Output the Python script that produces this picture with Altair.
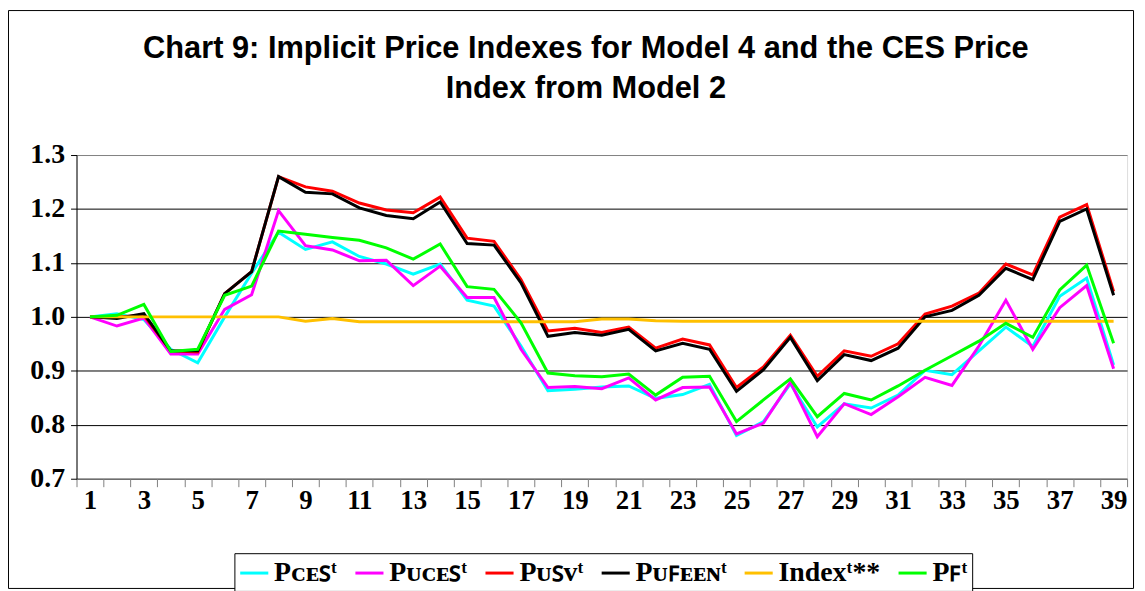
import altair as alt
import pandas as pd

periods = list(range(1, 40))

p_ces = [1.000, 1.006, 0.995, 0.940, 0.915, 1.000, 1.081, 1.157, 1.125, 1.139,
         1.112, 1.098, 1.079, 1.098, 1.031, 1.020, 0.946, 0.863, 0.866, 0.870,
         0.872, 0.849, 0.856, 0.875, 0.780, 0.806, 0.876, 0.796, 0.839, 0.831,
         0.855, 0.901, 0.893, 0.937, 0.981, 0.945, 1.038, 1.072, 0.911]
p_uces = [1.000, 0.983, 0.998, 0.931, 0.931, 1.014, 1.041, 1.197, 1.132, 1.124,
          1.104, 1.105, 1.058, 1.094, 1.036, 1.036, 0.940, 0.869, 0.871, 0.867,
          0.887, 0.846, 0.869, 0.870, 0.783, 0.803, 0.879, 0.778, 0.839, 0.819,
          0.852, 0.888, 0.873, 0.946, 1.031, 0.940, 1.017, 1.058, 0.904]
p_usv = [1.000, 1.000, 1.003, 0.937, 0.935, 1.043, 1.084, 1.260, 1.241, 1.233,
         1.211, 1.198, 1.193, 1.222, 1.146, 1.140, 1.069, 0.974, 0.979, 0.971,
         0.981, 0.942, 0.959, 0.948, 0.869, 0.907, 0.966, 0.890, 0.937, 0.927,
         0.950, 1.005, 1.020, 1.044, 1.098, 1.078, 1.185, 1.208, 1.047]
p_ufeen = [1.000, 0.997, 1.006, 0.937, 0.937, 1.043, 1.084, 1.260, 1.231, 1.228,
           1.202, 1.188, 1.182, 1.213, 1.136, 1.133, 1.063, 0.964, 0.971, 0.966,
           0.977, 0.937, 0.951, 0.940, 0.862, 0.902, 0.962, 0.882, 0.930, 0.919,
           0.942, 1.000, 1.012, 1.040, 1.090, 1.069, 1.177, 1.200, 1.040]
index_t = [1.000, 1.000, 1.000, 1.000, 1.000, 1.000, 1.000, 1.000, 0.992, 0.997,
           0.991, 0.991, 0.991, 0.991, 0.991, 0.991, 0.991, 0.991, 0.991, 0.996,
           0.996, 0.993, 0.992, 0.992, 0.992, 0.992, 0.992, 0.992, 0.992, 0.992,
           0.992, 0.992, 0.992, 0.992, 0.992, 0.992, 0.992, 0.992, 0.992]
p_f = [1.000, 1.003, 1.023, 0.936, 0.940, 1.040, 1.057, 1.159, 1.153, 1.147,
       1.142, 1.128, 1.107, 1.135, 1.056, 1.051, 0.989, 0.896, 0.891, 0.889,
       0.894, 0.855, 0.888, 0.890, 0.806, 0.846, 0.885, 0.815, 0.858, 0.846,
       0.872, 0.901, 0.928, 0.955, 0.988, 0.962, 1.050, 1.096, 0.951]

series_labels = ["P\u1d04\u1d07\ua731\u1d57", "P\u1d1c\u1d04\u1d07\ua731\u1d57",
                 "P\u1d1c\ua731\u1d20\u1d57", "P\u1d1c\ua730\u1d07\u1d07\u0274\u1d57",
                 "Index\u1d57**", "P\ua730\u1d57"]
series_colors = ["#00FFFF", "#FF00FF", "#FF0000", "#000000", "#FFC000", "#00FF00"]
series_values = [p_ces, p_uces, p_usv, p_ufeen, index_t, p_f]
y_ticks = [0.7, 0.8, 0.9, 1.0, 1.1, 1.2, 1.3]
title_lines = ["Chart 9: Implicit Price Indexes for Model 4 and the CES Price",
               "Index from Model 2"]

rows = []
for k, (lab, vals) in enumerate(zip(series_labels, series_values)):
    for t, v in zip(periods, vals):
        rows.append({"period": t, "value": v, "series": lab, "k": k})
df = pd.DataFrame(rows)

lines = alt.Chart(df).mark_line(strokeWidth=3).encode(
    x=alt.X("period:O",
            scale=alt.Scale(type="band", paddingInner=0, paddingOuter=0),
            axis=alt.Axis(title=None, labelAngle=0, tickBand="extent",
                          labelExpr="datum.value % 2 == 1 ? datum.label : ''",
                          labelOverlap=False,
                          labelFont="Liberation Serif", labelFontWeight="bold",
                          labelFontSize=27, labelColor="black",
                          tickColor="#808080", tickSize=8, tickWidth=1,
                          domainColor="#808080", domainWidth=1,
                          labelPadding=1, grid=False)),
    y=alt.Y("value:Q",
            scale=alt.Scale(domain=[0.7, 1.3], nice=False, zero=False),
            axis=alt.Axis(title=None, values=y_ticks, format=".1f",
                          grid=True,
                          gridColor={"condition": {"test": "datum.value > 1.25",
                                                   "value": "#808080"},
                                     "value": "black"},
                          gridWidth=1,
                          labelFont="Liberation Serif", labelFontWeight="bold",
                          labelFontSize=28, labelColor="black",
                          tickColor="black", tickSize=6, domainColor="black",
                          labelPadding=6)),
    color=alt.Color("series:N",
                    scale=alt.Scale(domain=series_labels, range=series_colors),
                    legend=alt.Legend(title=None, orient="none", legendX=159, legendY=401,
                                      direction="horizontal", columns=6,
                                      strokeColor="black", fillColor="white", padding=4,
                                      symbolType="stroke", symbolStrokeWidth=3,
                                      symbolSize=800, labelFont="Liberation Serif",
                                      labelFontWeight="bold", labelFontSize=28,
                                      labelColor="black", columnPadding=11,
                                      labelOffset=4, labelLimit=300)),
    order=alt.Order("k:Q"),
)

frame = alt.Chart(pd.DataFrame({"a": [0]})).mark_rect(
    fill=None, stroke="black", strokeWidth=1
).encode(
    x=alt.value(-68.5), x2=alt.value(1064.5),
    y=alt.value(-145.5), y2=alt.value(436.5),
)

chart = alt.layer(frame, lines).properties(
    width=1058, height=326,
    autosize=alt.AutoSizeParams(type="none"),
    padding={"left": 69, "top": 146, "right": 10, "bottom": 111},
    title=alt.TitleParams(
        text=title_lines, frame="group",
        font="Liberation Sans", fontSize=31, fontWeight="bold", color="black",
        anchor="middle", dx=-16, offset=-96, lineHeight=41, baseline="top"),
).configure_view(stroke="#808080", strokeWidth=1).configure(background="white")

chart.save("out.html", embed_options={"renderer": "svg", "actions": False})
